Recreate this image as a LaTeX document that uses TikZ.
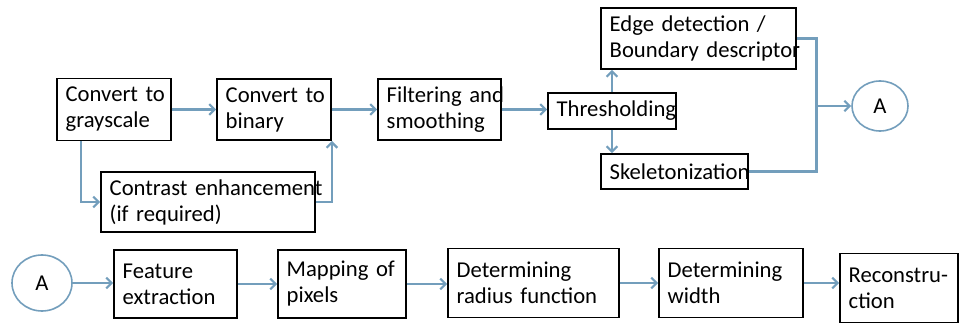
\documentclass[tikz,border=0pt]{standalone}
\usepackage{fontspec}
\setmainfont{Carlito}
\usetikzlibrary{shapes.geometric, arrows.meta, positioning}
\definecolor{linkblue}{RGB}{115,158,188}
\newcommand{\oneline}[1]{\mbox{#1}}

\begin{document}
\begin{tikzpicture}[x=0.75pt, y=0.75pt,
    font=\fontsize{17pt}{19.5pt}\selectfont,
    stage/.style={draw, line width=1.4pt, inner xsep=6.5pt, inner ysep=0pt, align=left},
    conn/.style={draw=linkblue, line width=1.6pt, -{Straight Barb[length=4pt, width=8pt]}},
    link/.style={draw=linkblue, line width=1.6pt},
    joint/.style={draw=linkblue, line width=1.2pt, ellipse, inner sep=0pt}]
    \useasboundingbox (0,0) rectangle (959,325);
    %
    \node[stage, text width=72.5pt, minimum height=46.5pt] (gray) at (114,215.5) {\oneline{Convert to}\\\oneline{grayscale}};
    \node[stage, text width=72.5pt, minimum height=45.75pt] (binary) at (274,215.5) {\oneline{Convert to}\\\oneline{binary}};
    \node[stage, text width=79.25pt, minimum height=45.75pt] (filter) at (439.5,215.5) {\oneline{Filtering and}\\\oneline{smoothing}};
    \node[stage, text width=83pt, minimum height=27pt] (thresh) at (612,214) {\oneline{Thresholding}};
    \node[stage, text width=133.25pt, minimum height=45.75pt] (edge) at (698.5,286.5) {\oneline{Edge detection /}\\\oneline{Boundary descriptor}};
    \node[stage, text width=97.25pt, minimum height=26.25pt] (skel) at (674.5,153.5) {\oneline{Skeletonization}};
    \node[stage, text width=147.5pt, minimum height=45pt] (contrast) at (208,123) {\oneline{Contrast enhancement}\\\oneline{(if required)}};
    \node[joint, minimum width=42pt, minimum height=37.5pt] (Aone) at (880,219) {A};
    %
    \node[joint, minimum width=45pt, minimum height=42pt] (Atwo) at (42,42) {A};
    \node[stage, text width=79.25pt, minimum height=51pt] (feat) at (175.5,41) {\oneline{Feature}\\\oneline{extraction}};
    \node[stage, text width=83pt, minimum height=51pt] (map) at (342,41) {\oneline{Mapping of}\\\oneline{pixels}};
    \node[stage, text width=115.25pt, minimum height=51.75pt] (radius) at (533.5,42) {\oneline{Determining}\\\oneline{radius function}};
    \node[stage, text width=95pt, minimum height=51.75pt] (width) at (731,42) {\oneline{Determining}\\\oneline{width}};
    \node[stage, text width=75.5pt, minimum height=51.75pt] (recon) at (899,37) {\oneline{Reconstru-}\\\oneline{ction}};
    %
    \draw[conn] (gray.east) -- (gray.east -| binary.west);
    \draw[conn] (binary.east) -- (binary.east -| filter.west);
    \draw[conn] (filter.east) -- (filter.east -| thresh.west);
    \draw[conn] ([xshift=18.75pt]gray.south west) |- (contrast.west);
    \draw[conn] (contrast.east) -| (binary.south east);
    \draw[conn] (thresh.north) -- (thresh.north |- edge.south);
    \draw[conn] (thresh.south) -- (thresh.south |- skel.north);
    %
    \coordinate[left=26pt of Aone.west] (jn);
    \draw[link] (edge.east) -| (jn);
    \draw[link] (skel.east) -| (jn);
    \draw[conn] (jn) -- (Aone.west);
    %
    \foreach \a/\b in {Atwo/feat, feat/map, map/radius, radius/width, width/recon}
        \draw[conn] (\a.east) -- (\a.east -| \b.west);
\end{tikzpicture}
\end{document}
